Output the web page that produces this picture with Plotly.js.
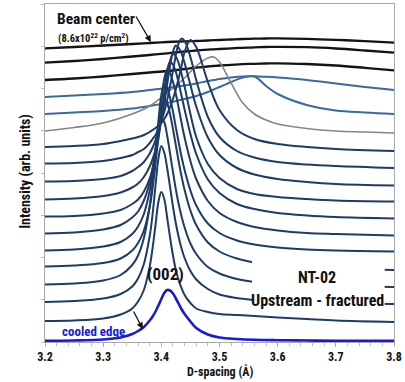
<!DOCTYPE html>
<html>
<head>
<meta charset="utf-8">
<script src="https://cdn.plot.ly/plotly-3.0.1.min.js"></script>
<style>html,body{margin:0;padding:0;background:#fff;}#chart{width:405px;height:382px;}</style>
</head>
<body>
<div id="chart"></div>
<script>
// D-spacing grids (Å)
const dBroad = [3.20,3.25,3.30,3.35,3.38,3.41,3.44,3.46,3.48,3.49,3.50,3.52,3.54,3.56,3.58,3.60,3.65,3.70,3.75,3.80];
const dFine = [3.20,3.25,3.30,3.33,3.35,3.36,3.37,3.38,3.385,3.39,3.395,3.40,3.405,3.41,3.415,3.42,3.425,3.43,3.435,3.44,3.45,3.46,3.48,3.50,3.53,3.56,3.60,3.65,3.70,3.80];

// stacked intensities (arb. units), top (beam center) to bottom (cooled edge)
const curve0 = [293.7,295,296.5,298,299,300,300.7,301,301.5,301.8,302,302.5,303,303.3,303.5,303.6,303.2,302.2,300.8,299.3];
const curve1 = [279.3,281,283,285.5,287,288.7,290.5,291.5,292.3,292.7,293,293.7,294.2,294.7,295,295.2,294.8,293.5,291.5,289.3];
const curve2 = [262,263.5,265.5,268,269.5,271,273,274.5,275.5,276,276.5,277.2,277.8,278.2,278.5,278.7,278,276.5,274.2,271.7];
const curve3 = [245,246.5,248,250,252,254,256.5,258.5,261,262,263,264.5,265.5,265.7,265.2,264.5,262,258.5,255,252];
const curve4 = [228,229.5,231,233.5,236,239,243,246,250,252.5,255,260,264.5,265.5,256,248,237,231.5,229.5,228];
const curve5 = [211,214.5,219,228,236,249,264,276,284,285,280,259,239,228,222,218,213.5,211,210,209];
const curve6 = [195,196,198,201,203.5,205,207,210,212,214,216.5,219,223,228,235,243,253,264,277,290,302,295,260,232,212,203,198,195,193,191];
const curve7 = [178.5,179,181,184,187,190,193,199,203,207,213,221,230,242,256,271,287,299,303.5,301,285,262,225,205,191,184.5,180,177.5,176,174];
const curve8 = [160.5,161,163,166,171,175,180,188.5,194.5,202,211.5,224,239,257.5,276,290.5,296.5,294,288,279,257,235.5,204.5,187,174,167.5,163,160,158,156.5];
const curve9 = [142.5,143.5,146,149.5,154.5,158.5,165,175.5,183,192.5,206,222,241.5,263.5,281,288,285.5,278.5,267.5,255.5,228,205,178,164,153,148,145,143,141.5,140.5];
const curve10 = [125.5,126,128.5,132,138,142.5,150.5,163.5,173.5,186.5,203.5,225.5,249.5,271.5,280,277.5,270,258.5,245.5,232.5,208,188,162.5,149,138,133,129,126.5,125,123.5];
const curve11 = [108.5,109.5,112.5,117,124.5,130.5,141.5,159.5,173.5,192,215,240.5,263,272.5,269,260,248,233.5,218.5,204.5,181,163,141,129,120,115,111.5,109,108,106.5];
const curve12 = [91.5,92.5,95.5,100,108,115.5,128,151.5,170,193.5,221,247,257.5,254,244,230.5,214.5,199,184.5,172,151.5,136.5,118.5,109,101.5,97.5,94.5,92.5,91.5,90.5];
const curve13 = [75.5,76.5,79,83.5,91.5,99,111.5,135,154,178,206,232,243,239,228,213,196.5,180,165,152,131.5,117,99.5,90.5,83.5,79.5,76.5,75,73.5,72];
const curve14 = [57.5,58.5,61.5,67,77,86.5,104,136,160,187.5,214,224.5,220,206.5,188.5,170,152.5,137.5,125,114.5,98.5,88,75,68.5,63,60,58,57,56,55];
const curve15 = [40,41,43.5,48,55.5,63.5,78,106,128,156.5,183.5,196,189.5,174,155,135.5,118.5,104.5,93,84,71,62.5,53,47.5,44,42,40,39,38.5,38];
const curve16 = [21,21.5,23.5,27.5,33.5,40.5,52,75.5,94,117,140,150,143,124.5,104.5,86.5,72,61.5,53.5,47,39,33.5,30,28,27,26,24.5,23,21.5,20];
const cooledEdge = [1.2,1.5,2.5,4.5,8,11,15,21.5,25.5,30.5,36.5,43,49,52,51.5,48.5,43.5,38,32.5,28,20.5,14,7.5,4.5,3,2.2,1.8,1.5,1.3,1.2];

const xTicks = [3.2,3.3,3.4,3.5,3.6,3.7,3.8];

const FONT = "'Liberation Sans Narrow','Arial Narrow','Roboto Condensed','Liberation Sans',Arial,sans-serif";
const BLACK = '#141414', BLUE = '#3a6aa0', GRAY = '#858585', NAVY = '#1e3c66', COOL = '#1a1ad0';

function tr(x, y, color, width) {
  return {x: x, y: y, type: 'scatter', mode: 'lines', hoverinfo: 'skip',
          line: {color: color, width: width, shape: 'spline', smoothing: 1}};
}
const traces = [
  tr(dBroad, curve0, BLACK, 2.3), tr(dBroad, curve1, BLACK, 2.3), tr(dBroad, curve2, BLACK, 2.3),
  tr(dBroad, curve3, BLUE, 2), tr(dBroad, curve4, BLUE, 2), tr(dBroad, curve5, GRAY, 1.6)
];
[curve6,curve7,curve8,curve9,curve10,curve11,curve12,curve13,curve14,curve15,curve16].forEach(c => traces.push(tr(dFine, c, NAVY, 2)));
traces.push(tr(dFine, cooledEdge, COOL, 2.6));

const layout = {
  width: 405, height: 382,
  margin: {l: 45, r: 11, t: 4, b: 40},
  paper_bgcolor: '#fff', plot_bgcolor: '#fff',
  showlegend: false,
  font: {family: FONT, color: '#111'},
  xaxis: {
    range: [3.2, 3.8], tickvals: xTicks, tickformat: '.1f',
    ticks: 'outside', ticklen: 4, tickcolor: '#aaa',
    showline: true, linecolor: '#a8a8a8', linewidth: 1, mirror: true,
    showgrid: false, zeroline: false,
    tickfont: {family: FONT, size: 12, weight: 'bold', color: '#111'},
    minor: {dtick: 0.02, ticks: 'outside', ticklen: 3, tickcolor: '#c0c0c0'}
  },
  yaxis: {
    range: [0, 338], tick0: 0, dtick: 42.25,
    ticks: 'outside', ticklen: 3, tickcolor: '#bbb', showticklabels: false,
    showline: true, linecolor: '#a8a8a8', linewidth: 1, mirror: true,
    showgrid: false, zeroline: false
  },
  shapes: [
    {type: 'rect', xref: 'x', yref: 'y', x0: 3.556, x1: 3.784, y0: 32, y1: 86,
     fillcolor: '#fff', line: {width: 0}, layer: 'above'}
  ],
  annotations: [
    {xref: 'paper', yref: 'paper', x: -0.055, y: 0.506, text: 'Intensity (arb. units)', textangle: -90,
     showarrow: false, xanchor: 'center', yanchor: 'middle',
     font: {family: FONT, size: 14, weight: 'bold', color: '#111'}},
    {xref: 'paper', yref: 'paper', x: 0.501, y: -0.086, text: 'D-spacing (Å)',
     showarrow: false, xanchor: 'center', yanchor: 'middle',
     font: {family: FONT, size: 12, weight: 'bold', color: '#111'}},
    {xref: 'x', yref: 'y', x: 3.287, y: 323, text: 'Beam center', showarrow: false,
     xanchor: 'center', yanchor: 'middle', font: {family: FONT, size: 15.5, weight: 'bold', color: '#111'}},
    {xref: 'x', yref: 'y', x: 3.284, y: 304, text: '(8.6x10<sup>22</sup> p/cm<sup>2</sup>)', showarrow: false,
     xanchor: 'center', yanchor: 'middle', font: {family: FONT, size: 10.5, weight: 'bold', color: '#111'}},
    {xref: 'x', yref: 'y', x: 3.382, y: 300, axref: 'x', ayref: 'y', ax: 3.355, ay: 327, text: '',
     showarrow: true, arrowhead: 2, arrowsize: 1, arrowwidth: 1.3, arrowcolor: '#111'},
    {xref: 'x', yref: 'y', x: 3.408, y: 68, text: '(002)', showarrow: false,
     xanchor: 'center', yanchor: 'middle', font: {family: FONT, size: 17, weight: 'bold', color: '#111'}},
    {xref: 'x', yref: 'y', x: 3.284, y: 11, text: 'cooled edge', showarrow: false,
     xanchor: 'center', yanchor: 'middle', font: {family: FONT, size: 13, weight: 'bold', color: COOL}},
    {xref: 'x', yref: 'y', x: 3.368, y: 13, axref: 'x', ayref: 'y', ax: 3.351, ay: 32, text: '',
     showarrow: true, arrowhead: 2, arrowsize: 1, arrowwidth: 1.3, arrowcolor: '#111'},
    {xref: 'x', yref: 'y', x: 3.668, y: 65, text: 'NT-02', showarrow: false,
     xanchor: 'center', yanchor: 'middle', font: {family: FONT, size: 16, weight: 'bold', color: '#111'}},
    {xref: 'x', yref: 'y', x: 3.669, y: 42, text: 'Upstream - fractured', showarrow: false,
     xanchor: 'center', yanchor: 'middle', font: {family: FONT, size: 16, weight: 'bold', color: '#111'}}
  ]
};

Plotly.newPlot('chart', traces, layout, {staticPlot: true, displayModeBar: false});
</script>
</body>
</html>
